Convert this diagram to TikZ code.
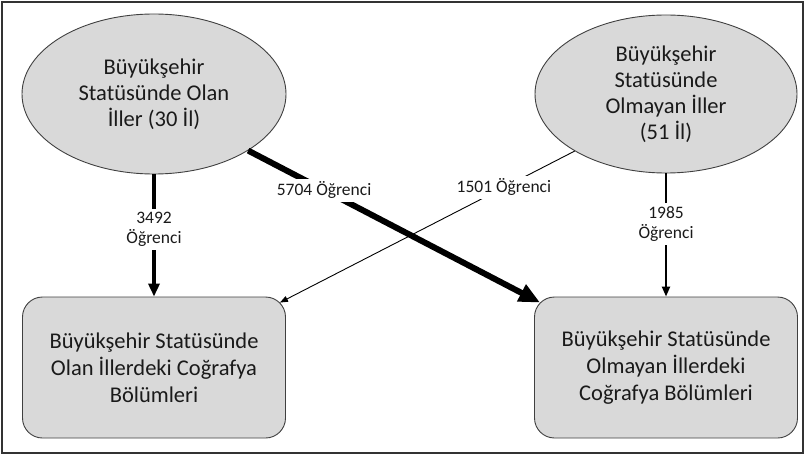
\documentclass[tikz,border=0pt]{standalone}
\usepackage{fontspec}
\setmainfont{Carlito}
\usetikzlibrary{shapes.geometric,arrows.meta}
\definecolor{shapefill}{HTML}{D9D9D9}
\definecolor{shapeline}{HTML}{404040}
\definecolor{txt}{HTML}{1A1A1A}
\tikzset{
  oval/.style={ellipse, draw=shapeline, fill=shapefill, line width=0.9pt, inner sep=0pt,
    align=center, text=txt, font=\fontsize{22.5}{26}\selectfont},
  boxnode/.style={rectangle, rounded corners=20pt, draw=shapeline, fill=shapefill, line width=0.9pt,
    inner sep=0pt, minimum width=263pt, minimum height=141pt,
    align=center, text=txt, font=\fontsize{22.5}{27}\selectfont},
  lbl/.style={fill=white, inner sep=3pt, align=center, text=txt, font=\fontsize{17.5}{20.5}\selectfont},
  flow/.style={draw=black}
}
\begin{document}
\begin{tikzpicture}[x=1pt,y=1pt]
\useasboundingbox (0,0) rectangle (805,456);
\draw[line width=1.4pt, draw=black!80] (2,3) rectangle (803,454);
\node[oval, minimum width=264pt, minimum height=160pt] (e1) at (154,362)
  {Büyükşehir\\Statüsünde Olan\\İller (30 İl)};
\node[oval, minimum width=262pt, minimum height=158pt] (e2) at (666,362)
  {Büyükşehir\\Statüsünde\\Olmayan İller\\(51 İl)};
\node[boxnode] (b1) at (154,88.5)
  {Büyükşehir Statüsünde\\Olan İllerdeki Coğrafya\\Bölümleri};
\node[boxnode] (b2) at (666,88.5)
  {Büyükşehir Statüsünde\\Olmayan İllerdeki\\Coğrafya Bölümleri};
% vertical arrows
\draw[flow, line width=4pt, -{Triangle[length=13pt,width=11pt]}] (e1.south) -- (b1.north)
  node[lbl, pos=0.45] {3492\\Öğrenci};
\draw[flow, line width=2.2pt, -{Triangle[length=10pt,width=8pt]}] (e2.south) -- (b2.north)
  node[lbl, pos=0.41] {1985\\Öğrenci};
% diagonal arrows
\draw[flow, line width=6pt, -{Triangle[length=21pt,width=18pt]}] (e1.-31) -- ([shift={(6,-6)}]b2.north west)
  node[lbl, pos=0.26] {5704 Öğrenci};
\draw[flow, line width=0.9pt, -{Triangle[length=8pt,width=6pt]}] (e2.-148) -- ([shift={(-6,-6)}]b1.north east)
  node[lbl, pos=0.24] {1501 Öğrenci};
\end{tikzpicture}
\end{document}
